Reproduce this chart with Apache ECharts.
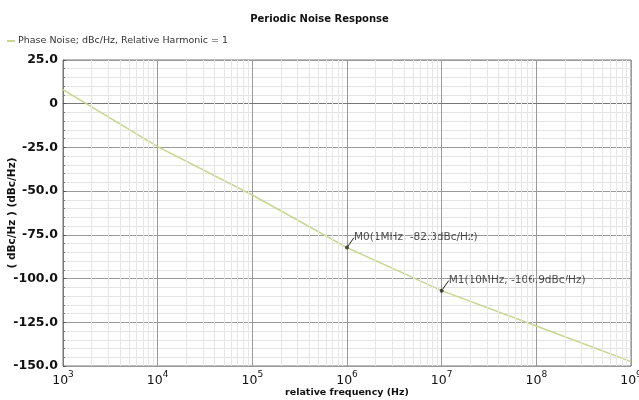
<!DOCTYPE html>
<html><head><meta charset="utf-8">
<script src="https://cdn.jsdelivr.net/npm/echarts@6/dist/echarts.min.js"></script>
<style>html,body{margin:0;padding:0;background:#fff}#c{width:639px;height:400px}</style>
</head><body><div id="c"></div>
<script>
const freqs = [1e3, 1e4, 1e5, 1e6, 1e7, 1e8, 1e9];
const noise = [8.0, -24.5, -52.2, -82.3, -106.9, -127.1, -147.5];
const markerFreqs = [1e6, 1e7];
const markerValues = [-82.3, -106.9];
const markerLabels = ['M0(1MHz, -82.3dBc/Hz)', 'M1(10MHz, -106.9dBc/Hz)'];
const yMin = -150, yMax = 25, yStep = 25;
const xMin = 1e3, xMax = 1e9;

const FONT = 'DejaVu Sans';
const minorX = [];
for (let d = 3; d < 9; d++) for (let k = 2; k <= 9; k++) minorX.push({xAxis: k * Math.pow(10, d)});

const chart = echarts.init(document.getElementById('c'));
chart.setOption({
  animation: false,
  backgroundColor: '#fff',
  textStyle: {fontFamily: FONT},
  title: {text: 'Periodic Noise Response', left: 'center', top: 9,
    textStyle: {fontFamily: FONT, fontSize: 10, fontWeight: 'bold', color: '#111'}},
  legend: {left: 2, top: 31, icon: 'rect', itemWidth: 8, itemHeight: 2, itemGap: 4,
    textStyle: {fontFamily: FONT, fontSize: 9.5, color: '#333', padding: [0,0,0,-2]},
    data: ['Phase Noise; dBc/Hz, Relative Harmonic = 1']},
  grid: {left: 63, right: 8, top: 60, bottom: 34, show: true, borderColor: '#777', borderWidth: 1,
    containLabel: false, outerBoundsMode: 'none'},
  xAxis: {type: 'log', logBase: 10, min: xMin, max: xMax,
    name: 'relative frequency (Hz)', nameLocation: 'middle', nameGap: 22, nameMoveOverlap: false,
    nameTextStyle: {fontFamily: FONT, fontSize: 9.5, fontWeight: 'bold', color: '#111'},
    axisLine: {lineStyle: {color: '#777'}},
    axisTick: {show: false},
    splitLine: {show: true, lineStyle: {color: '#9a9a9a', width: 1}},
    axisLabel: {margin: 4, color: '#111',
      formatter: v => '{b|10}{s|' + Math.round(Math.log10(v)) + '}',
      rich: {b: {fontFamily: FONT, fontSize: 12.5, color: '#111', verticalAlign: 'bottom'},
             s: {fontFamily: FONT, fontSize: 9, color: '#111', verticalAlign: 'top', padding: [0,0,8,0]}}}},
  yAxis: {type: 'value', min: yMin, max: yMax, interval: yStep,
    name: '( dBc/Hz ) (dBc/Hz)', nameLocation: 'middle', nameGap: 45, nameRotate: 90, nameMoveOverlap: false,
    nameTextStyle: {fontFamily: FONT, fontSize: 10.5, fontWeight: 'bold', color: '#111'},
    axisLine: {show: true, lineStyle: {color: '#777'}},
    axisTick: {show: true, length: 3, inside: true, lineStyle: {color: '#555'}},
    minorTick: {show: true, splitNumber: 5, length: 2, lineStyle: {color: '#777'}},
    splitLine: {show: true, lineStyle: {color: '#9a9a9a', width: 1}},
    minorSplitLine: {show: true, lineStyle: {color: '#e4e4e4', width: 1}},
    axisLabel: {margin: 5, fontFamily: FONT, fontSize: 12.5, fontWeight: 'bold', color: '#111',
      formatter: v => v === 0 ? '0' : v.toFixed(1)}},
  series: [
    {type: 'line', name: 'minor', data: freqs.map((f, i) => [f, noise[i]]), z: 1,
     showSymbol: false, lineStyle: {opacity: 0}, silent: true, legendHoverLink: false,
     markLine: {silent: true, symbol: 'none', label: {show: false},
       lineStyle: {color: '#e6e6e6', type: 'solid', width: 1}, data: minorX}},
    {type: 'line', name: 'Phase Noise; dBc/Hz, Relative Harmonic = 1', z: 3,
     data: freqs.map((f, i) => [f, noise[i]]), showSymbol: false, smooth: false,
     itemStyle: {color: '#c6d68c'}, lineStyle: {color: '#c6d68c', width: 1.5}},
    {type: 'scatter', name: 'markers', z: 4, symbolSize: 4,
     data: markerFreqs.map((f, i) => ({value: [f, markerValues[i]], label: {formatter: markerLabels[i]}})),
     itemStyle: {color: '#222'},
     label: {show: true, position: 'right', fontFamily: FONT, fontSize: 10.5, color: '#222', distance: 2},
     labelLayout: {dx: 3, dy: -10},
     labelLine: {show: true, lineStyle: {color: '#222', width: 1}}}
  ]
});
</script></body></html>
